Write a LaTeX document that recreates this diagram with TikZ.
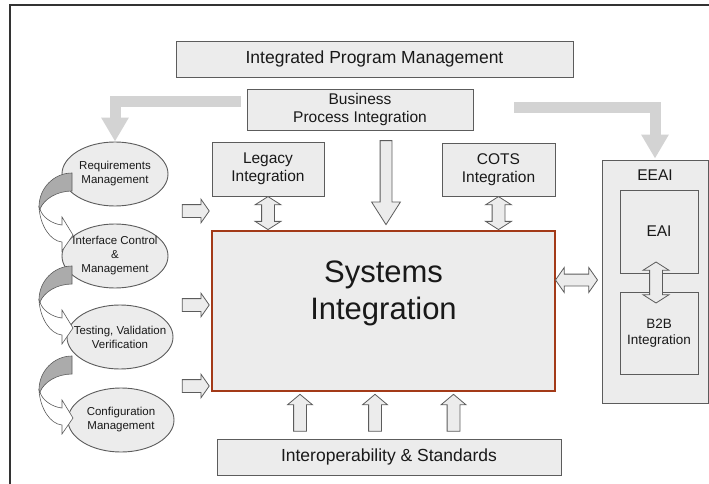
\documentclass[tikz,border=0pt]{standalone}
\usepackage{fontspec}
\setmainfont{Liberation Sans}
\usepackage{tikz}
\usetikzlibrary{positioning}
\usetikzlibrary{calc}
\usetikzlibrary{arrows.meta}
\usetikzlibrary{shapes.geometric}
\usetikzlibrary{shapes.arrows}
\definecolor{boxfill}{HTML}{ECECEC}
\definecolor{boxline}{HTML}{5C5C5C}
\definecolor{sysred}{HTML}{A33A18}
\definecolor{flowgray}{HTML}{D3D3D3}
\definecolor{bandgray}{HTML}{ABABAB}
\def\fsBig{\fontsize{17.5}{21}\selectfont}
\def\fsMid{\fontsize{15.5}{18}\selectfont}
\def\fsSmall{\fontsize{13.5}{16}\selectfont}
\def\fsOval{\fontsize{11.5}{14}\selectfont}
\def\fsHuge{\fontsize{31}{37}\selectfont}
\tikzstyle{box}=[draw=boxline, fill=boxfill, rectangle, line width=0.9pt, inner sep=2pt, align=center]
\tikzstyle{oval}=[draw=boxline, fill=boxfill, ellipse, line width=0.9pt, minimum width=106pt, minimum height=64pt, inner sep=0pt]
\tikzstyle{ovaltext}=[anchor=center, inner sep=0pt, align=center, font=\fsOval]
\tikzstyle{blk}=[draw=boxline, fill=boxfill, single arrow, single arrow head indent=0pt, inner xsep=0pt, inner ysep=6pt, line width=0.8pt]
\tikzstyle{dbl}=[draw=boxline, fill=boxfill, double arrow, double arrow head indent=0pt, inner xsep=0pt, inner ysep=6pt, line width=0.8pt]
\tikzstyle{pipe}=[draw=flowgray, line width=11pt, -{Triangle[width=26pt,length=24pt]}]
\tikzset{
  bendarrow/.pic={
    % lower leg with the head, then the shaded upper leg
    \filldraw [fill=white, draw=boxline, line width=0.6pt]
      (-33,34) .. controls (-32,52) and (-22,68) .. (-10,69) -- (-10,78) -- (1,62)
      -- (-10,44) -- (-10,52) .. controls (-20,51) and (-30,44) .. (-32,36) -- cycle;
    \filldraw [fill=bandgray, draw=boxline, line width=0.6pt]
      (0,0) .. controls (-18,0) and (-33,15) .. (-33,34) -- (-32,36)
      .. controls (-28,26) and (-15,18) .. (0,18) -- cycle;
  }
}

\begin{document}
\begin{tikzpicture}[x=1pt, y=-1pt, every node/.style={text=black!90}]
    \useasboundingbox (0,0) rectangle (709,484);
    \draw [line width=1.8pt, draw=black!80] (709,5) -- (10,5) -- (10,484);

    \node [box, minimum width=397pt, minimum height=36pt, font=\fsBig] (ipm) at (374.5,59) {Integrated Program Management};
    \node [box, minimum width=226pt, minimum height=41pt, font=\fsMid] (bpi) at (360,109.5) {Business\\Process Integration};
    \node [box, minimum width=112pt, minimum height=54pt, font=\fsMid] (legacy) at (268,169) {Legacy\\Integration};
    \node [box, minimum width=113pt, minimum height=53pt, font=\fsMid] (cots) at (498.5,169.5) {COTS\\Integration};
    \node [box, draw=sysred, line width=2.6pt, minimum width=343pt, minimum height=160pt,
           label={[anchor=north, yshift=-31pt, inner sep=0pt, align=center, font=\fsHuge]north:Systems\\Integration}] (sys) at (383.5,311) {};
    \node [box, minimum width=344pt, minimum height=36pt, font=\fsBig] (iop) at (389,457) {Interoperability \& Standards};

    \node [box, minimum width=106pt, minimum height=243pt,
           label={[anchor=north, yshift=-10pt, inner sep=0pt, font=\fsMid]north:EEAI}] (eeai) at (655,281.5) {};
    \node [box, minimum width=78pt, minimum height=83pt, font=\fsMid] (eai) at (659,231.5) {EAI};
    \node [box, minimum width=78pt, minimum height=82pt, font=\fsSmall] (b2b) at (659,333) {B2B\\Integration};

    %% life cycle processes
    \node [oval, label={[ovaltext]center:Requirements\\Management}] (req) at (115,174) {};
    \node [oval, label={[ovaltext]center:Interface Control\\\&\\Management}] (icm) at (115,256) {};
    \node [oval, label={[ovaltext]center:Testing, Validation\\Verification}] (tvv) at (120,337) {};
    \node [oval, label={[ovaltext]center:Configuration\\Management}] (cfg) at (121,420) {};
    \pic at (72,173) {bendarrow};
    \pic at (72,266) {bendarrow};
    \pic at (72,356) {bendarrow};

    %% wide gray flows out of business process integration
    \draw [pipe] ([xshift=-6pt, yshift=8pt]bpi.west) -| (req.north);
    \draw [pipe] ([xshift=41pt, yshift=2pt]bpi.east) -| ([yshift=1pt]eeai.north);

    %% block arrows into systems integration
    \foreach \y [count=\i] in {211,305,386}
      \node [blk, minimum height=27pt, single arrow head extend=5.5pt, single arrow tip angle=110] (feed\i) at (193.5,\y) {};
    \node [blk, rotate=-90, inner ysep=5.5pt, minimum height=84pt, single arrow head extend=8.5pt, single arrow tip angle=65] (bpidown) at (386,178) {};
    \foreach \x [count=\i] in {300,375,453.5}
      \node [blk, rotate=90, minimum height=37pt, single arrow head extend=6pt, single arrow tip angle=100] (up\i) at (\x,415.5) {};

    \node [dbl, rotate=90, minimum height=33pt, double arrow head extend=6.5pt, double arrow tip angle=115] (lgsys) at ($(legacy.south)!0.5!(legacy.south |- sys.north)$) {};
    \node [dbl, rotate=90, minimum height=33pt, double arrow head extend=6.5pt, double arrow tip angle=115] (ctsys) at ($(cots.south)!0.5!(cots.south |- sys.north)$) {};
    \node [dbl, inner ysep=5.5pt, minimum height=42pt, double arrow head extend=6.5pt, double arrow tip angle=110] (syseeai) at (576.5,280) {};
    \node [dbl, rotate=90, minimum height=41pt, double arrow head extend=6.5pt, double arrow tip angle=115] (eaib2b) at (656,282.5) {};
\end{tikzpicture}
\end{document}
